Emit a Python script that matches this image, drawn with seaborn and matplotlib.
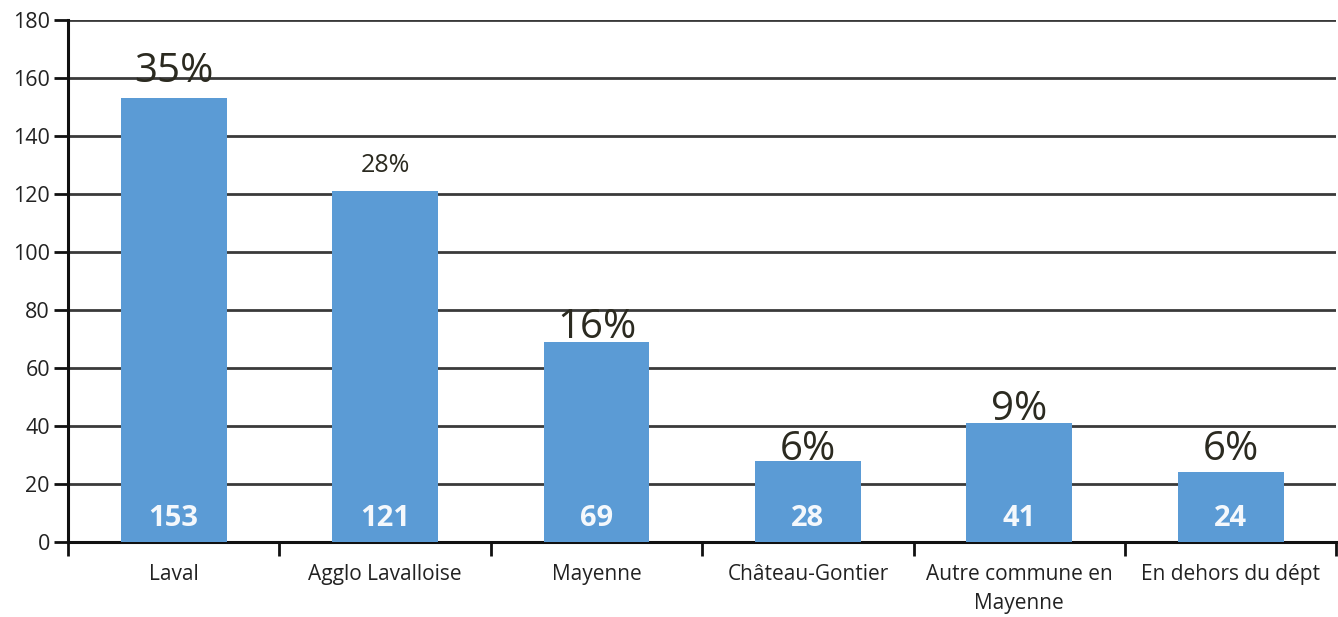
import numpy as np
import pandas as pd
import seaborn as sns
import matplotlib
import matplotlib.pyplot as plt
from matplotlib.ticker import FixedLocator

matplotlib.use('Agg')

# Data
categories = ["Laval", "Agglo Lavalloise", "Mayenne", "Château-Gontier",
              "Autre commune en\nMayenne", "En dehors du dépt"]
counts = [153, 121, 69, 28, 41, 24]
percent_labels = ["35%", "28%", "16%", "6%", "9%", "6%"]

# Label layout (the original has hand-placed percentage labels)
pct_offsets = [5.6, 6.6, 1.3, 0.3, 1.1, 4.3]
pct_sizes = [29, 18, 29, 29, 29, 29]

df = pd.DataFrame({"lieu": categories, "n": counts})

sns.set_theme(style="white")
plt.rcParams['font.family'] = ['Open Sans', 'DejaVu Sans']

fig = plt.figure(figsize=(13.38, 6.17), dpi=100)
ax = fig.add_axes([0.0508, 0.1216, 0.948, 0.846])

sns.barplot(data=df, x="lieu", y="n", color="#5B9BD5", width=0.5,
            saturation=1, linewidth=0, ax=ax, zorder=3)

ax.set_ylim(0, 180)
ax.set_xlim(-0.5, len(categories) - 0.5)
ax.set_yticks(np.arange(0, 181, 20))
ax.yaxis.grid(True, color="#3a3a3a", linewidth=2)
ax.set_axisbelow(True)

for s in ["top", "right"]:
    ax.spines[s].set_visible(False)
for s in ["left", "bottom"]:
    ax.spines[s].set_color("#111111")
    ax.spines[s].set_linewidth(2.2)

ax.set_xlabel("")
ax.set_ylabel("")
ax.tick_params(axis="x", which="major", length=0, pad=16, labelsize=15,
               labelcolor="#222222")
for lab in ax.get_xticklabels():
    lab.set_linespacing(1.5)
ax.xaxis.set_minor_locator(FixedLocator(np.arange(-0.5, len(categories), 1)))
ax.tick_params(axis="x", which="minor", length=10, width=2, color="#111111",
               direction="out", bottom=True)
ax.tick_params(axis="y", length=10, width=2, color="#111111", direction="out",
               left=True, labelsize=15.5, labelcolor="#222222", pad=3)

for i, (v, p) in enumerate(zip(counts, percent_labels)):
    ax.text(i, v + pct_offsets[i], p, ha="center", va="baseline",
            fontsize=pct_sizes[i], color="#2b2a20", zorder=4)
    ax.text(i, 8, str(v), ha="center", va="center", fontsize=21,
            fontweight="bold", color="#f4f8fc", zorder=4)

fig.savefig("out.png", dpi=100)
